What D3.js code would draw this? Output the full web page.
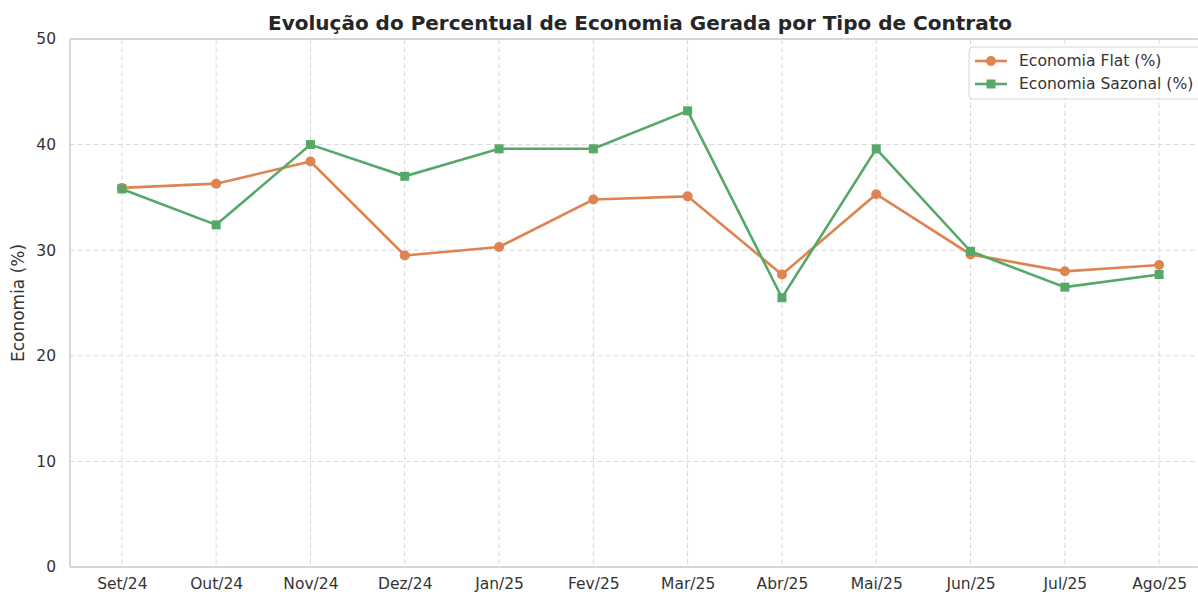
<!DOCTYPE html>
<html>
<head>
<meta charset="utf-8">
<script src="https://cdn.jsdelivr.net/npm/d3@7"></script>
<style>
  body { margin: 0; background: #fff; }
  svg { font-family: "DejaVu Sans", sans-serif; }
</style>
</head>
<body>
<svg id="chart" width="1198" height="594"></svg>
<script>
const months = ["Set/24", "Out/24", "Nov/24", "Dez/24", "Jan/25", "Fev/25", "Mar/25", "Abr/25", "Mai/25", "Jun/25", "Jul/25", "Ago/25"];
const flat = [35.9, 36.3, 38.4, 29.5, 30.3, 34.8, 35.1, 27.7, 35.3, 29.6, 28.0, 28.6];
const sazonal = [35.8, 32.4, 40.0, 37.0, 39.6, 39.6, 43.2, 25.5, 39.6, 29.9, 26.5, 27.7];
const yTicks = [0, 10, 20, 30, 40, 50];

const svg = d3.select("#chart"),
      margin = {top: 39, right: -13, bottom: 27, left: 70},
      width = +svg.attr("width") - margin.left - margin.right,
      height = +svg.attr("height") - margin.top - margin.bottom,
      g = svg.append("g").attr("transform", "translate(" + margin.left + "," + margin.top + ")");

const orange = "#dd8452", green = "#55a868";

// matplotlib-like 5% margins on the categorical axis
const idx = d3.range(months.length);
const pad = (months.length - 1) * 0.05;
const x = d3.scaleLinear().domain([-pad, months.length - 1 + pad]).range([0, width]);
const y = d3.scaleLinear().domain([0, 50]).range([height, 0]);

// grid
g.append("g").selectAll("line").data(yTicks).join("line")
  .attr("x1", 0).attr("x2", width)
  .attr("y1", d => y(d)).attr("y2", d => y(d))
  .attr("stroke", "#d9d9d9").attr("stroke-dasharray", "5,3").attr("stroke-width", 1);
g.append("g").selectAll("line").data(idx).join("line")
  .attr("x1", d => x(d)).attr("x2", d => x(d))
  .attr("y1", 0).attr("y2", height)
  .attr("stroke", "#d9d9d9").attr("stroke-dasharray", "5,3").attr("stroke-width", 1);

// spines
g.append("line").attr("x1", 0).attr("x2", 0).attr("y1", 0).attr("y2", height)
  .attr("stroke", "#cccccc").attr("stroke-width", 1.5);
g.append("line").attr("x1", 0).attr("x2", width).attr("y1", height).attr("y2", height)
  .attr("stroke", "#cccccc").attr("stroke-width", 1.5);
g.append("line").attr("x1", 0).attr("x2", width).attr("y1", 0).attr("y2", 0)
  .attr("stroke", "#cccccc").attr("stroke-width", 1.5);

// axes
const xAxis = g.append("g").attr("transform", "translate(0," + height + ")")
  .call(d3.axisBottom(x).tickValues(idx).tickFormat(i => months[i]).tickSize(0).tickPadding(11));
const yAxis = g.append("g")
  .call(d3.axisLeft(y).tickValues(yTicks).tickSize(0).tickPadding(14));
[xAxis, yAxis].forEach(a => {
  a.select(".domain").remove();
  a.selectAll("text").attr("fill", "#333").style("font-size", "15.5px").style("font-family", "DejaVu Sans");
});

// y label
svg.append("text")
  .attr("transform", "translate(24," + (margin.top + height / 2) + ") rotate(-90)")
  .attr("text-anchor", "middle").attr("fill", "#333").style("font-size", "17px")
  .text("Economia (%)");

// title
svg.append("text")
  .attr("x", 640).attr("y", 30).attr("text-anchor", "middle")
  .attr("fill", "#262626").style("font-size", "20px").style("font-weight", "bold")
  .text("Evolução do Percentual de Economia Gerada por Tipo de Contrato");

const line = d3.line().x((d, i) => x(i)).y(d => y(d));

g.append("path").datum(flat).attr("d", line)
  .attr("fill", "none").attr("stroke", orange).attr("stroke-width", 2.6);
g.append("path").datum(sazonal).attr("d", line)
  .attr("fill", "none").attr("stroke", green).attr("stroke-width", 2.6);

g.append("g").selectAll("circle").data(flat).join("circle")
  .attr("cx", (d, i) => x(i)).attr("cy", d => y(d)).attr("r", 5)
  .attr("fill", orange);
g.append("g").selectAll("rect").data(sazonal).join("rect")
  .attr("x", (d, i) => x(i) - 4.5).attr("y", d => y(d) - 4.5)
  .attr("width", 9).attr("height", 9).attr("fill", green);

// legend
const legend = svg.append("g").attr("transform", "translate(969,47)");
legend.append("rect").attr("width", 240).attr("height", 52).attr("rx", 4)
  .attr("fill", "#fff").attr("fill-opacity", 0.85).attr("stroke", "#d6d6d6");
const items = [{name: "Economia Flat (%)", color: orange, shape: "circle"},
               {name: "Economia Sazonal (%)", color: green, shape: "square"}];
items.forEach((it, i) => {
  const row = legend.append("g").attr("transform", "translate(0," + (14 + i * 23) + ")");
  row.append("line").attr("x1", 6).attr("x2", 38).attr("stroke", it.color).attr("stroke-width", 2.6);
  if (it.shape === "circle") row.append("circle").attr("cx", 22).attr("r", 5).attr("fill", it.color);
  else row.append("rect").attr("x", 17.5).attr("y", -4.5).attr("width", 9).attr("height", 9).attr("fill", it.color);
  row.append("text").attr("x", 50).attr("dy", "0.35em").attr("fill", "#333")
    .style("font-size", "15.6px").text(it.name);
});
</script>
</body>
</html>
